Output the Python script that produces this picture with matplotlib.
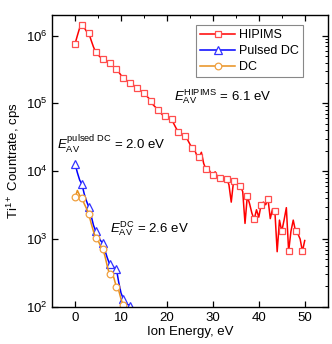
import numpy as np
import matplotlib

matplotlib.use("Agg")
import matplotlib.pyplot as plt
from matplotlib.ticker import LogLocator, MultipleLocator, NullFormatter

plt.rcParams["font.family"] = ["Liberation Sans", "DejaVu Sans"]
plt.rcParams["mathtext.fontset"] = "custom"
plt.rcParams["mathtext.rm"] = "Liberation Sans"
plt.rcParams["mathtext.it"] = "Liberation Sans:italic"

# ion energy in eV, 0.5 eV steps
hipims_e = np.arange(0, 50.01, 0.5)
hipims_counts = [
    7.6e5, 1.0e6, 1.3e6, 1.43e6, 1.3e6, 1.15e6, 1.08e6, 8.5e5, 6.8e5, 5.7e5,
    5.2e5, 4.8e5, 4.5e5, 4.3e5, 4.1e5, 4.0e5, 3.7e5, 3.4e5, 3.2e5, 2.9e5,
    2.6e5, 2.4e5, 2.25e5, 2.1e5, 2.0e5, 1.9e5, 1.8e5, 1.7e5, 1.6e5, 1.5e5,
    1.43e5, 1.3e5, 1.2e5, 1.1e5, 9.5e4, 8.8e4, 8.0e4, 7.4e4, 6.8e4, 6.5e4,
    6.2e4, 6.0e4, 5.8e4, 5.0e4, 4.3e4, 3.8e4, 3.6e4, 3.4e4, 3.3e4, 2.9e4,
    2.5e4, 2.2e4, 2.1e4, 1.7e4, 1.6e4, 1.9e4, 1.3e4, 1.07e4, 1.1e4, 9.5e3,
    8.9e3, 9.8e3, 8.3e3, 7.9e3, 8.6e3, 7.6e3, 7.8e3, 6.3e3, 3.5e3, 7.1e3,
    6.6e3, 6.2e3, 6.0e3, 5.0e3, 1.7e3, 4.3e3, 3.3e3, 2.4e3, 1.95e3, 2.7e3,
    2.1e3, 3.2e3, 3.5e3, 3.2e3, 3.9e3, 2.0e3, 2.8e3, 2.6e3, 650, 1.9e3,
    1.3e3, 1.9e3, 2.9e3, 660, 1.3e3, 1.9e3, 1.3e3, 1.2e3, 1.0e3, 660,
    950,
]

pulsed_e = np.arange(0, 12.51, 0.5)
pulsed_counts = [
    1.28e4, 9.5e3, 7.4e3, 6.4e3, 4.6e3, 3.6e3, 2.95e3, 2.2e3, 1.6e3, 1.3e3,
    1.1e3, 960, 870, 680, 530, 430, 410, 380, 360, 230,
    160, 132, 118, 108, 104, 80,
]

dc_e = np.arange(0, 11.01, 0.5)
dc_counts = [
    4.1e3, 5.2e3, 4.4e3, 4.0e3, 3.3e3, 2.8e3, 2.3e3, 1.7e3, 1.3e3, 1.03e3,
    950, 800, 720, 560, 400, 300, 330, 260, 195, 175,
    130, 105, 85,
]

fig = plt.figure(figsize=(3.32, 3.44), dpi=100)
ax = fig.add_axes([0.157, 0.108, 0.83, 0.848])

ax.plot(hipims_e, hipims_counts, color="#ff0000", linewidth=1.1, marker="s",
        markevery=3, markersize=4.6, markerfacecolor="white",
        markeredgecolor="#ff4d4d", markeredgewidth=0.9, label="HIPIMS")
ax.plot(pulsed_e, pulsed_counts, color="#0000ff", linewidth=1.1, marker="^",
        markevery=3, markersize=5.2, markerfacecolor="white",
        markeredgecolor="#3333ff", markeredgewidth=0.9, label="Pulsed DC")
ax.plot(dc_e, dc_counts, color="#e8901c", linewidth=1.1, marker="o",
        markevery=3, markersize=4.8, markerfacecolor="white",
        markeredgecolor="#f0a040", markeredgewidth=0.9, label="DC")

ax.set_yscale("log")
ax.set_xlim(-5, 55)
ax.set_ylim(1e2, 2e6)
ax.xaxis.set_major_locator(MultipleLocator(10))
ax.xaxis.set_minor_locator(MultipleLocator(5))
ax.yaxis.set_major_locator(LogLocator(base=10, numticks=10))
ax.yaxis.set_minor_locator(LogLocator(base=10, subs=np.arange(2, 10), numticks=10))
ax.yaxis.set_minor_formatter(NullFormatter())
ax.tick_params(which="both", direction="in", top=True, right=True, labelsize=9.5)
ax.tick_params(which="major", length=4, width=0.9)
ax.tick_params(which="minor", length=2, width=0.7)
ax.tick_params(axis="y", which="minor", left=False)
ax.tick_params(axis="x", which="minor", bottom=False)
for s in ax.spines.values():
    s.set_linewidth(1.0)

ax.set_xlabel("Ion Energy, eV", fontsize=9.5, labelpad=2)
ax.set_ylabel("Ti$^{1+}$ Countrate, cps", fontsize=9.5, labelpad=2)

ax.text(21.5, 1.24e5, r"$E_{\mathrm{AV}}^{\mathrm{HIPIMS}}$ = 6.1 eV",
        fontsize=9.5, ha="left", va="center")
ax.text(-4.0, 2.5e4, r"$E_{\mathrm{AV}}^{\mathrm{pulsed\ DC}}$ = 2.0 eV",
        fontsize=9.5, ha="left", va="center")
ax.text(7.5, 1.4e3, r"$E_{\mathrm{AV}}^{\mathrm{DC}}$ = 2.6 eV",
        fontsize=9.5, ha="left", va="center")

leg = ax.legend(loc="upper right", bbox_to_anchor=(0.912, 0.966), fontsize=9,
                fancybox=False, edgecolor="#888888", framealpha=1,
                handlelength=2.8, handletextpad=0.3, borderpad=0.35,
                labelspacing=0.3, borderaxespad=0)
leg.get_frame().set_linewidth(0.8)

fig.savefig("out.png", dpi=100)
